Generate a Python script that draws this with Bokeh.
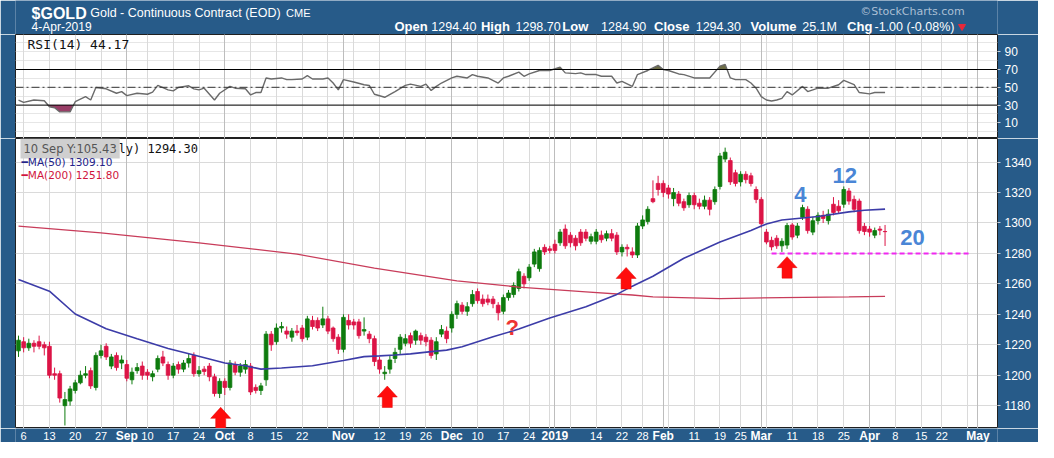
import numpy as np
import pandas as pd
from bokeh.plotting import figure
from bokeh.layouts import column
from bokeh.models import Range1d, FixedTicker, Grid, Label, Span
from bokeh.embed import file_html
from bokeh.resources import INLINE
from bokeh.core.properties import value

# ---------------- data ----------------
symbol = "$GOLD"
title_text = "Gold - Continuous Contract (EOD)"
exchange = "CME"
date_text = "4-Apr-2019"
volume_text = "25.1M"
first_day = "2018-08-03"
axis_end_day = "2019-05-03"
origin_day = "2018-09-04"
holidays = ["2018-09-03", "2018-11-22", "2018-12-25", "2019-01-01",
            "2019-01-21", "2019-02-18", "2019-04-19"]

opens = [
    1216, 1222, 1218, 1221, 1222, 1220, 1219, 1201, 1201, 1180, 1183, 1190, 1195, 1200, 1203, 1192, 1213, 1219, 1206, 1213, 1208,
    1207, 1197, 1203, 1206, 1202, 1199, 1204, 1212, 1207, 1200, 1207, 1204, 1208, 1213, 1201, 1204, 1206, 1199, 1188, 1196,
    1192, 1207, 1202, 1204, 1206, 1192, 1190, 1197, 1227, 1222, 1231, 1229, 1225, 1229, 1231, 1225, 1236, 1236, 1233, 1237,
    1231, 1225, 1217, 1236, 1235, 1235, 1229, 1227, 1224, 1210, 1201, 1204, 1211, 1217, 1221, 1226, 1223, 1226, 1225, 1223,
    1214, 1227, 1229, 1231, 1240, 1246, 1242, 1247, 1255, 1250, 1250, 1250, 1246, 1242, 1251, 1253, 1257, 1265, 1264, 1273,
    1270, 1284, 1283, 1286, 1287, 1296, 1292, 1290, 1294, 1294, 1288, 1288, 1292, 1290, 1293, 1292, 1281, 1284, 1281, 1279,
    1298, 1301, 1316, 1326, 1326, 1323, 1316, 1319, 1314, 1312, 1318, 1313, 1311, 1315, 1314, 1324, 1342, 1341, 1333, 1327,
    1332, 1331, 1322, 1315.5, 1294, 1288.6, 1290, 1285, 1285.5, 1298.7, 1292, 1303.7, 1309, 1294, 1301.5, 1305, 1301.5, 1312.3, 1311, 1312.3,
    1321, 1315.5, 1314.4, 1297.8, 1296, 1292, 1296, 1294.4]
highs = [
    1226, 1225, 1224, 1223, 1226, 1222, 1222, 1205, 1203, 1189, 1193, 1197, 1203, 1206, 1205, 1215, 1220, 1221, 1214, 1215, 1213,
    1210, 1205, 1208, 1209, 1204, 1203, 1213, 1216, 1209, 1208, 1209, 1210, 1214, 1215, 1206, 1206, 1208, 1201, 1198, 1198,
    1210, 1209, 1208, 1210, 1208, 1194, 1195, 1229, 1229, 1234, 1235, 1232, 1231, 1233, 1233, 1239, 1239, 1238, 1245, 1239,
    1232, 1227, 1240, 1240, 1237, 1237, 1238, 1229, 1226, 1212, 1206, 1213, 1218, 1227, 1227, 1228, 1230, 1228, 1227, 1225,
    1225, 1233, 1232, 1242, 1249, 1248, 1248, 1256, 1257, 1253, 1253, 1252, 1248, 1253, 1256, 1261, 1270, 1267, 1273, 1283,
    1284, 1286, 1285, 1289, 1296, 1299, 1294, 1292, 1296, 1296, 1293, 1296, 1295, 1295, 1296, 1294, 1286, 1286, 1284, 1300,
    1305, 1311, 1328, 1331, 1328, 1325, 1323, 1321, 1316, 1320, 1320, 1316, 1318, 1317, 1324, 1346, 1349.5, 1343, 1335, 1334,
    1334, 1333, 1324, 1317, 1296, 1291, 1292, 1290, 1300, 1300, 1300, 1312, 1311, 1304, 1307, 1308, 1309, 1317, 1315, 1324,
    1323, 1318, 1316, 1300, 1298, 1297, 1298, 1298.7]
lows = [
    1212, 1215, 1216, 1215, 1217, 1213, 1198, 1197, 1182, 1167, 1180, 1188, 1194, 1198, 1191, 1190, 1211, 1210, 1204, 1203, 1204,
    1196, 1194, 1201, 1197, 1197, 1196, 1202, 1206, 1197, 1198, 1201, 1202, 1205, 1199, 1199, 1200, 1196, 1186, 1185, 1187,
    1190, 1200, 1199, 1201, 1187, 1188, 1187, 1193, 1216, 1220, 1228, 1224, 1222, 1226, 1222, 1223, 1230, 1229, 1231, 1227,
    1222, 1214, 1215, 1230, 1230, 1224, 1226, 1221, 1206, 1201, 1197, 1201, 1208, 1214, 1219, 1218, 1220, 1220, 1219, 1211,
    1210, 1225, 1221, 1228, 1237, 1240, 1239, 1245, 1247, 1245, 1246, 1244, 1236, 1240, 1249, 1251, 1255, 1257, 1262, 1271,
    1268, 1279, 1280, 1280, 1285, 1283, 1284, 1282, 1285, 1288, 1286, 1286, 1287, 1288, 1288, 1279, 1278, 1278, 1277, 1277,
    1296, 1299, 1313, 1318, 1317, 1316, 1311, 1311, 1308, 1310, 1309, 1309, 1309, 1305, 1312, 1322, 1340, 1325, 1324, 1324,
    1326, 1324, 1313, 1297, 1286, 1282, 1283, 1281, 1283, 1289, 1290, 1302, 1293, 1292, 1299, 1300, 1299, 1305, 1306, 1310,
    1312, 1307, 1293, 1292, 1291, 1290, 1292, 1284.9]
closes = [
    1223, 1218, 1221, 1219, 1219, 1218, 1200, 1200, 1185, 1184, 1191, 1195, 1200, 1201, 1193, 1213, 1216, 1212, 1212, 1205, 1210,
    1198, 1202, 1205, 1200, 1200, 1201, 1211, 1208, 1200, 1206, 1204, 1208, 1211, 1201, 1203, 1202.5, 1199, 1188, 1196, 1192,
    1208, 1202, 1206, 1207, 1189, 1190, 1193, 1227, 1220, 1231, 1232, 1227, 1229, 1228, 1224, 1237, 1232, 1231, 1237, 1229,
    1224, 1217, 1238, 1233, 1233, 1226, 1230, 1224, 1209, 1204, 1202, 1210, 1215, 1225, 1224, 1221, 1229, 1223, 1222, 1213,
    1222, 1230, 1224, 1240, 1247, 1242, 1245, 1253, 1249, 1247, 1248, 1247, 1241, 1251, 1254, 1259, 1268, 1260, 1271, 1281,
    1282, 1281, 1282, 1282, 1294, 1285, 1287, 1285, 1287, 1290, 1291, 1294, 1289, 1293, 1290, 1281, 1284, 1283, 1279, 1298,
    1302, 1309, 1314, 1322, 1320, 1319, 1320, 1313, 1310, 1318, 1312, 1311, 1315, 1309, 1322, 1344, 1346.5, 1327, 1326, 1332,
    1328.5, 1326, 1315.5, 1299.5, 1287.5, 1284.3, 1285, 1288, 1298.3, 1290.8, 1298, 1310.1, 1295, 1301.5, 1305, 1303, 1305.8, 1306.9, 1308, 1322,
    1314.4, 1309, 1295, 1294.4, 1294, 1295, 1295.3, 1294.3]

ma50_pos = [-21, -15, -10, -4, 2, 8, 13, 19, 23, 26, 30, 36, 42, 46, 49, 52, 55, 59, 62, 65,
            71, 76, 82, 89, 95, 98, 102, 108, 115, 121, 124, 127, 134, 140, 143, 147]
ma50_vals = [1262.8, 1255.2, 1240.2, 1230.5, 1224.0, 1217.6, 1213.3, 1208.0, 1206.2, 1204.0,
             1204.7, 1206.2, 1209.7, 1212.2, 1212.7, 1213.3, 1214.0, 1215.5, 1216.5, 1218.7,
             1225.2, 1230.3, 1237.6, 1245.0, 1253.1, 1258.5, 1265.0, 1276.8, 1287.5, 1295.0,
             1299.4, 1302.0, 1304.3, 1307.3, 1308.4, 1309.1]
ma200_pos = [-21, -5, 14, 33, 48, 64, 76, 89, 98, 102, 115, 127, 140, 147]
ma200_vals = [1298.0, 1293.5, 1287.0, 1279.5, 1270.3, 1262.0, 1257.9, 1254.8, 1252.7,
              1251.4, 1250.3, 1251.0, 1251.4, 1251.8]

rsi_pos = [-21, -20, -18, -16, -15, -14, -13, -11, -10, -8, -7, -6, -4, -2, -1, 0, 2, 4, 5, 6,
           8, 9, 10, 12, 13, 14, 15, 17, 18, 20, 21, 23, 24, 25, 26, 27, 28, 30, 31, 32,
           34, 35, 36, 38, 39, 40, 41, 42, 44, 46, 47, 48, 50, 52, 54, 55, 57, 58, 59, 60,
           61, 63, 64, 66, 67, 68, 70, 72, 73, 74, 76, 77, 78, 80, 82, 84, 85, 87, 88, 89,
           91, 92, 94, 95, 96, 98, 99, 101, 103, 104, 105, 107, 108, 110, 112, 113, 115, 116, 117, 118,
           120, 121, 122, 123, 124, 125, 126, 127, 128, 129, 131, 132, 133, 134, 136, 138, 139, 141, 142, 144,
           145, 147]
rsi_vals = [35.7, 33.0, 35.7, 34.9, 28.1, 27.0, 22.4, 22.4, 33.8, 39.5, 35.7, 49.8, 48.3, 43.3, 45.2, 40.7, 43.3, 42.2, 44.5, 52.1,
            47.1, 46.0, 49.8, 51.7, 48.3, 47.1, 49.0, 35.7, 43.3, 51.0, 49.0, 48.3, 41.4, 44.1, 44.1, 60.5, 59.3, 60.5, 58.6, 58.6,
            59.3, 63.1, 59.3, 59.3, 60.5, 54.8, 47.1, 58.6, 55.9, 52.9, 52.1, 42.2, 38.8, 45.2, 52.1, 53.6, 51.0, 53.6, 46.4, 51.0,
            54.8, 60.5, 62.4, 60.5, 64.3, 62.4, 60.5, 54.8, 60.5, 62.4, 67.0, 62.4, 65.0, 68.9, 68.9, 72.7, 66.2, 65.4, 66.2, 64.3,
            64.3, 62.4, 62.4, 54.8, 56.7, 51.0, 64.3, 68.9, 74.6, 70.0, 68.9, 65.0, 64.3, 60.5, 60.5, 60.5, 73.8, 75.7, 60.5, 58.6,
            58.6, 54.8, 49.0, 39.5, 35.7, 34.6, 35.7, 37.6, 45.2, 41.4, 51.0, 45.2, 47.1, 49.0, 49.0, 52.9, 57.8, 52.9, 44.1, 42.6,
            44.1, 44.17]

tick_dates = ["2018-08-06", "2018-08-13", "2018-08-20", "2018-08-27", "2018-09-04", "2018-09-10",
              "2018-09-17", "2018-09-24", "2018-10-01", "2018-10-08", "2018-10-15", "2018-10-22",
              "2018-11-01", "2018-11-12", "2018-11-19", "2018-11-26", "2018-12-03", "2018-12-10",
              "2018-12-17", "2018-12-24", "2019-01-02", "2019-01-14", "2019-01-22", "2019-01-28",
              "2019-02-01", "2019-02-11", "2019-02-19", "2019-02-25", "2019-03-01", "2019-03-11",
              "2019-03-18", "2019-03-25", "2019-04-01", "2019-04-08", "2019-04-15", "2019-04-22",
              "2019-05-01"]
tick_labels = ["6", "13", "20", "27", "Sep", "10", "17", "24", "Oct", "8", "15", "22", "Nov", "12",
               "19", "26", "Dec", "10", "17", "24", "2019", "14", "22", "28", "Feb", "11", "19", "25",
               "Mar", "11", "18", "25", "Apr", "8", "15", "22", "May"]

price_ticks = [1180, 1200, 1220, 1240, 1260, 1280, 1300, 1320, 1340]
rsi_ticks = [10, 30, 50, 70, 90]
rsi_upper, rsi_mid, rsi_lower = 70, 50, 30

arrow_pos = [-11.7, 18.2, 50.5, 96.8, 128.0]
arrow_tip = [1165.0, 1178.9, 1192.9, 1270.8, 1277.9]
cycle_pos = [130.6, 139.2, 152.3]
cycle_price = [1318.7, 1331.3, 1290.6]
cycle_text = ["4", "12", "20"]
question_pos, question_price = 74.7, 1231.1
support_level = 1280.0
support_start, support_end = 125.0, 163.4
crosshair_text = "10 Sep Y:105.43"

# ---------------- layout constants (canvas pixels) ----------------
W = 1038
LB, RB = 15, 41
H_HEAD, H_RSI, H_MAIN, H_STRIP = 34, 104, 290, 14
BG = "#275b89"
GREEN, RED = "#0e7b0e", "#dc1446"
FRAME_W = W - LB - RB

x_start, x_end = -21.58, 168.8          # visible trading-day window
y_top, y_bot = 1355.5, 1165.0           # visible price window
r_top, r_bot = 109.33, -7.53            # visible RSI window
PXD = FRAME_W / (x_end - x_start)
PXU = H_MAIN / (y_top - y_bot)
PXR = H_RSI / (r_top - r_bot)
TOP_RSI, TOP_MAIN = H_HEAD, H_HEAD + H_RSI


def fx(cx_px):
    return x_start + (cx_px - LB) / PXD


def fy_main(cy_px):
    return y_top - (cy_px - TOP_MAIN) / PXU


def fy_rsi(cy_px):
    return r_top - (cy_px - TOP_RSI) / PXR


# ---------------- calendar ----------------
days = pd.bdate_range(first_day, axis_end_day)
days = days[~days.isin(pd.to_datetime(holidays))]
origin = days.get_loc(pd.Timestamp(origin_day))


def didx(d):
    return days.get_loc(pd.Timestamp(d)) - origin


cx = np.arange(len(closes)) + didx(first_day)
O, H, L, C = (np.array(a, float) for a in (opens, highs, lows, closes))
colors = [GREEN if c >= o else RED for o, c in zip(O, C)]

week_ticks = [i - origin for i in range(1, len(days)) if days[i].weekday() < days[i - 1].weekday()]
month_ticks = [i - origin for i in range(1, len(days)) if days[i].month != days[i - 1].month]
label_ticks = [didx(d) for d in tick_dates]

xr = Range1d(x_start, x_end)


def panel(height, yr):
    f = figure(width=W, height=height, x_range=xr, y_range=yr, output_backend="svg",
               toolbar_location=None, min_border_left=LB, min_border_right=RB,
               min_border_top=0, min_border_bottom=0, x_axis_location=None,
               y_axis_location="right")
    f.border_fill_color = BG
    f.background_fill_color = "white"
    f.outline_line_color = "#202020"
    f.xgrid.visible = False
    f.add_layout(Grid(dimension=0, ticker=FixedTicker(ticks=sorted(set(week_ticks + label_ticks))),
                      grid_line_color="#dadada", grid_line_width=1))
    f.add_layout(Grid(dimension=0, ticker=FixedTicker(ticks=month_ticks),
                      grid_line_color="#bdbdbd", grid_line_width=1))
    ax = f.yaxis[0]
    ax.axis_line_color = None
    ax.major_tick_line_color = "#c8d2dc"
    ax.major_tick_out = 3
    ax.major_tick_in = 0
    ax.minor_tick_line_color = None
    ax.major_label_standoff = 4
    ax.major_label_text_color = "white"
    ax.major_label_text_font = "Liberation Sans"
    ax.major_label_text_font_size = "12px"
    return f


def box_label(f, y, text, border, bold=False):
    f.add_layout(Label(x=fx(W - RB + 3), y=y, text=text, text_font="Liberation Sans",
                       text_font_size="10px", text_font_style="bold" if bold else "normal",
                       text_color="black", text_align="left", text_baseline="middle",
                       background_fill_color="white", border_line_color=border,
                       border_line_width=1, padding=1))


# ---------------- header ----------------
head = figure(width=W, height=H_HEAD, x_range=Range1d(0, W), y_range=Range1d(H_HEAD, 0),
              output_backend="svg", toolbar_location=None, min_border=0,
              x_axis_location=None, y_axis_location=None)
head.background_fill_color = BG
head.border_fill_color = BG
head.outline_line_color = None
head.grid.visible = False
head.text(x=[17], y=[12.5], text=[symbol], text_font=value("Liberation Sans"),
          text_font_size="16px", text_font_style="bold", text_color="white",
          text_baseline="middle")
head.text(x=[79], y=[12], text=[title_text], text_font=value("Liberation Sans"),
          text_font_size="12.5px", text_color="white", text_baseline="middle")
head.text(x=[286], y=[12], text=[exchange], text_font=value("Liberation Sans"),
          text_font_size="11px", text_color="white", text_baseline="middle")
head.text(x=[17], y=[26], text=[date_text], text_font=value("Liberation Sans"),
          text_font_size="12px", text_color="white", text_baseline="middle")
chg = closes[-1] - closes[-2]
pct = chg / closes[-2] * 100
bold_x = [400.6, 492.0, 578.0, 675.0, 777.0, 879.0]
bold_t = ["Open", "High", "Low", "Close", "Volume", "Chg"]
val_x = [439.5, 528.5, 619.0, 719.0, 831.6, 908.0]
val_t = [f"{opens[-1]:.2f}", f"{highs[-1]:.2f}", f"{lows[-1]:.2f}", f"{closes[-1]:.2f}",
         volume_text, f"{chg:.2f} ({pct:.2f}%)"]
head.text(x=bold_x, y=[26.4] * 6, text=bold_t, text_font=value("Liberation Sans"),
          text_font_size="13px", text_font_style="bold", text_color="white",
          text_baseline="middle")
head.text(x=val_x, y=[26.4] * 6, text=val_t, text_font=value("Liberation Sans"),
          text_font_size="12.5px", text_color="white", text_baseline="middle")
head.scatter(x=[1000.5], y=[26], marker="inverted_triangle", size=7,
             fill_color="#e8283a", line_color="#e8283a")
head.text(x=[893], y=[11], text=["\u00a9StockCharts.com"], text_font=value("DejaVu Sans"),
          text_font_size="11px", text_color="#aabfd4", text_baseline="middle")

# ---------------- RSI panel ----------------
rsi = panel(H_RSI, Range1d(r_bot, r_top))
rsi.yaxis.ticker = FixedTicker(ticks=rsi_ticks)
rsi.ygrid.ticker = FixedTicker(ticks=list(range(0, 101, 10)))
rsi.ygrid.grid_line_color = "#e6e6e6"


def with_crossings(xs, ys, level):
    ox, oy = [xs[0]], [ys[0]]
    for i in range(1, len(xs)):
        y0, y1 = ys[i - 1], ys[i]
        if (y0 - level) * (y1 - level) < 0:
            t = (level - y0) / (y1 - y0)
            ox.append(xs[i - 1] + t * (xs[i] - xs[i - 1]))
            oy.append(level)
        ox.append(xs[i])
        oy.append(ys[i])
    return np.array(ox, float), np.array(oy, float)


ux, uy = with_crossings(rsi_pos, rsi_vals, rsi_upper)
rsi.varea(x=ux, y1=rsi_upper, y2=np.maximum(uy, rsi_upper), fill_color="#6e6e46")
lx, ly = with_crossings(rsi_pos, rsi_vals, rsi_lower)
rsi.varea(x=lx, y1=np.minimum(ly, rsi_lower), y2=rsi_lower, fill_color="#983d66")
rsi.add_layout(Span(location=rsi_upper, dimension="width", line_color="black", line_width=1))
rsi.add_layout(Span(location=rsi_lower, dimension="width", line_color="black", line_width=1))
rsi.add_layout(Span(location=rsi_mid, dimension="width", line_color="#333333", line_width=1,
                    line_dash="8 3 2 3"))
rsi.line(rsi_pos, rsi_vals, line_color="#6a6a6a", line_width=1.4)
rsi.add_layout(Label(x=fx(27), y=fy_rsi(43.5), text=f"RSI(14) {rsi_vals[-1]:.2f}",
                     text_font="DejaVu Sans Mono", text_font_size="13px", text_color="#111111",
                     text_baseline="middle"))
box_label(rsi, rsi_vals[-1], f"{rsi_vals[-1]:.2f}", "black")

# ---------------- price panel ----------------
p = panel(H_MAIN, Range1d(y_bot, y_top))
p.yaxis.ticker = FixedTicker(ticks=price_ticks)
p.ygrid.ticker = FixedTicker(ticks=price_ticks)
p.ygrid.grid_line_color = "#dadada"

p.segment(x0=cx, y0=L, x1=cx, y1=H, line_color=colors, line_width=1)
p.vbar(x=cx, width=0.72, top=np.maximum(O, C), bottom=np.minimum(O, C),
       fill_color=colors, line_color=colors, line_width=0.8)
p.line(ma200_pos, ma200_vals, line_color="#c83c5a", line_width=1.3)
p.line(ma50_pos, ma50_vals, line_color="#3c3ca8", line_width=1.6)
p.line([support_start, support_end], [support_level, support_level],
       line_color="#f028f0", line_width=2, line_dash="5 3")

arrow_shape = [(0, 0), (10, 11), (5, 11), (5, 21.5), (-5, 21.5), (-5, 11), (-10, 11)]
axs = [[a + dx / PXD for dx, dy in arrow_shape] for a in arrow_pos]
ays = [[t - dy / PXU for dx, dy in arrow_shape] for t in arrow_tip]
p.patches(axs, ays, fill_color="#ff0d0d", line_color="#e00000", line_width=0.5)

p.text(x=[question_pos], y=[question_price], text=["?"], text_font=value("Liberation Sans"),
       text_font_size="22px", text_font_style="bold", text_color="#ee3333",
       text_align="center", text_baseline="middle")
p.text(x=cycle_pos, y=cycle_price, text=cycle_text, text_font=value("Liberation Sans"),
       text_font_size="22px", text_font_style="bold", text_color="#4a86d6",
       text_align="center", text_baseline="middle")

p.add_layout(Label(x=fx(45.8), y=fy_main(148.5), text=f"{symbol} (Daily) {closes[-1]:.2f}",
                   text_font="DejaVu Sans Mono", text_font_size="12px", text_color="#111111",
                   text_baseline="middle"))
p.add_layout(Label(x=fx(20), y=fy_main(148), text=crosshair_text, text_font="DejaVu Sans",
                   text_font_size="11.5px", text_color="#555555", text_baseline="middle",
                   background_fill_color="#cfcfcf", padding=3))
p.add_layout(Label(x=fx(21), y=fy_main(161.5), text=f"\u2501MA(50) {ma50_vals[-1]:.2f}",
                   text_font="DejaVu Sans", text_font_size="10.5px", text_color="#24248a",
                   text_baseline="middle"))
p.add_layout(Label(x=fx(21), y=fy_main(174), text=f"\u2501MA(200) {ma200_vals[-1]:.2f}",
                   text_font="DejaVu Sans", text_font_size="10.5px", text_color="#d0143c",
                   text_baseline="middle"))
box_label(p, ma50_vals[-1], f"{ma50_vals[-1]:.2f}", "#2a2a8c")
box_label(p, closes[-1], f"{closes[-1]:.2f}", "black", bold=True)
box_label(p, ma200_vals[-1], f"{ma200_vals[-1]:.2f}", "#d23c64")

# ---------------- date strip ----------------
strip = figure(width=W, height=H_STRIP, x_range=xr, y_range=Range1d(0, H_STRIP),
               output_backend="svg", toolbar_location=None, min_border_left=LB,
               min_border_right=RB, min_border_top=0, min_border_bottom=0,
               x_axis_location=None, y_axis_location=None)
strip.background_fill_color = BG
strip.border_fill_color = BG
strip.outline_line_color = None
strip.grid.visible = False
is_bold = [(not t.isdigit()) or len(t) == 4 for t in tick_labels]
strip.text(x=[x for x, b in zip(label_ticks, is_bold) if not b], y=7,
           text=[t for t, b in zip(tick_labels, is_bold) if not b],
           text_font=value("Liberation Sans"), text_font_size="11px", text_color="white",
           text_align="center", text_baseline="middle")
strip.text(x=[x for x, b in zip(label_ticks, is_bold) if b], y=7,
           text=[t for t, b in zip(tick_labels, is_bold) if b],
           text_font=value("Liberation Sans"), text_font_size="12px", text_font_style="bold",
           text_color="white", text_align="center", text_baseline="middle")

layout = column(head, rsi, p, strip)
open("out.html", "w").write(file_html(layout, INLINE))
